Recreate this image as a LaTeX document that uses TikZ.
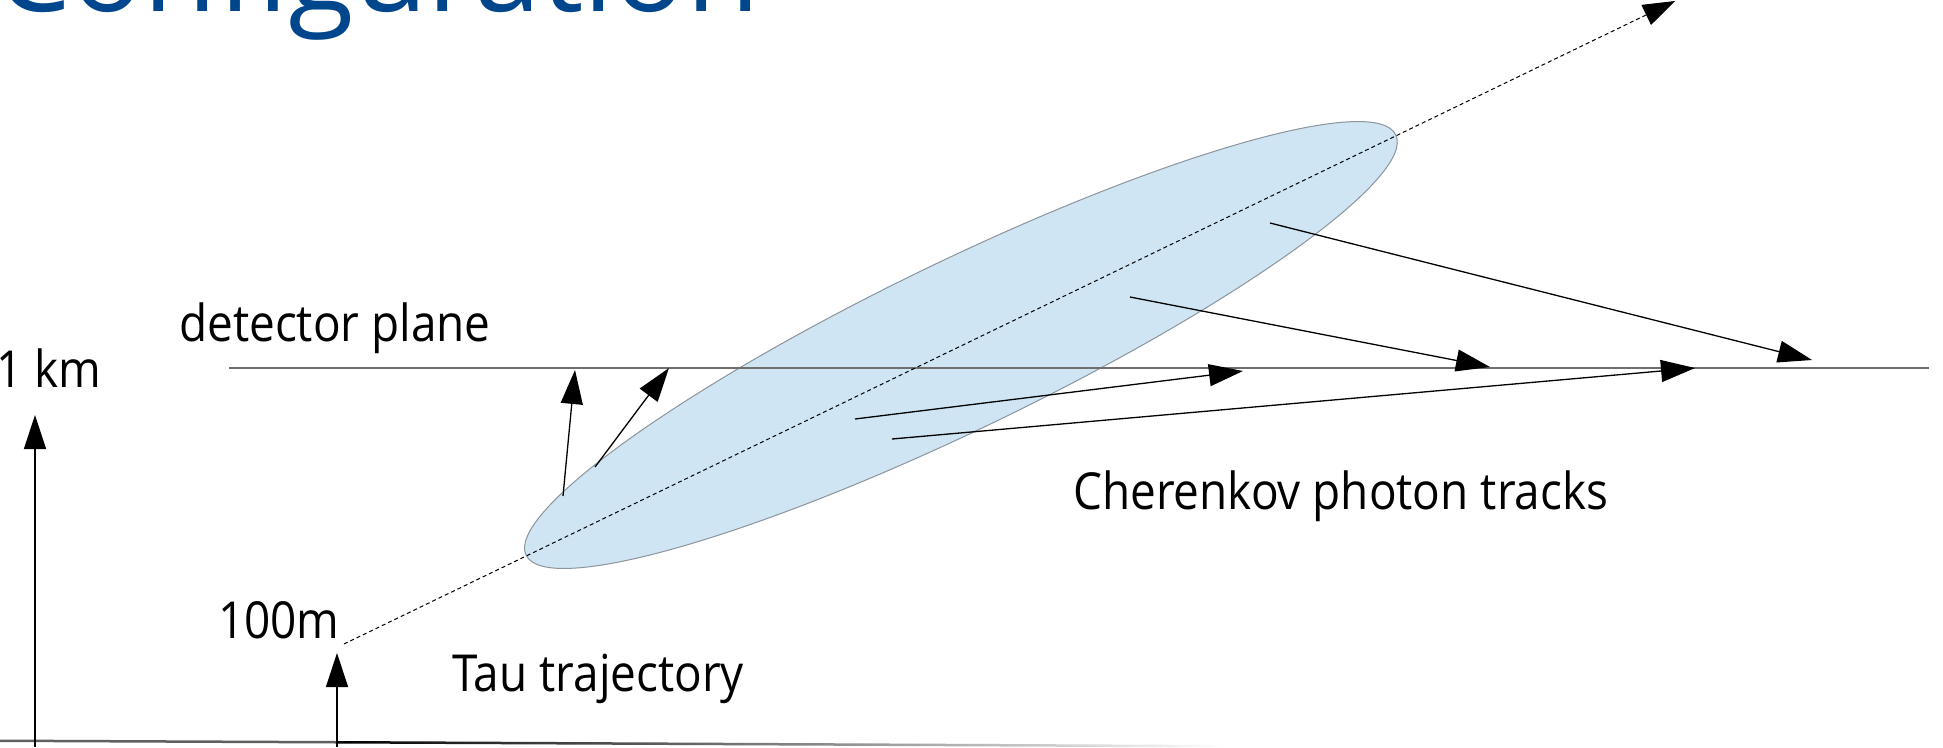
\documentclass[tikz,border=0pt]{standalone}
\usepackage{fontspec}
\setmainfont{Open Sans}
\newfontfamily\labelfont[FakeStretch=0.9]{Open Sans}
\usetikzlibrary{arrows.meta}
\definecolor{titleblue}{RGB}{0,70,140}
\definecolor{cloud}{RGB}{207,229,243}
\definecolor{cloudedge}{RGB}{140,148,156}
\definecolor{planegray}{RGB}{110,110,110}
\begin{document}
\begin{tikzpicture}[x=1pt,y=-1pt,
  lbl/.style={inner sep=0pt, anchor=base west, font=\labelfont\fontsize{51}{60}\selectfont},
  arr/.style={-{Triangle[length=34pt,width=22pt]}, line width=1.3pt, black},
  tau/.style={-{Triangle[length=32pt,width=22pt]}, line width=1pt, dash pattern=on 4pt off 3pt}]
\useasboundingbox (0,0) rectangle (1943,747);
\clip (0,0) rectangle (1943,747);
\fill[white] (0,0) rectangle (1943,747);

% title (cut off at top)
\node[inner sep=0pt, anchor=base east, text=titleblue, font=\fontsize{120}{140}\selectfont] (title) at (760,11) {Configuration};

% coordinates
\coordinate (axisB) at (35,747);  \coordinate (axisT) at (35,415);
\coordinate (hB) at (337,747);    \coordinate (hT) at (337,653);
\coordinate (tauS) at (344,644);  \coordinate (tauE) at (1675,1);
\coordinate (detL) at (229,368);  \coordinate (detR) at (1929,368);
\coordinate (p1s) at (563,496);   \coordinate (p1e) at (575,370);
\coordinate (p2s) at (595,467);   \coordinate (p2e) at (669,368);
\coordinate (p3s) at (855,419);   \coordinate (p3e) at (1243,371);
\coordinate (p4s) at (892,439);   \coordinate (p4e) at (1695,368);
\coordinate (p5s) at (1130,297);  \coordinate (p5e) at (1490,367);
\coordinate (p6s) at (1270,223);  \coordinate (p6e) at (1812,360);
\coordinate (C) at (961,345);

% shower ellipse
\begin{scope}[rotate around={25.8:(C)}]
  \draw[fill=cloud, draw=cloudedge, line width=1pt] (C) ellipse [x radius=483, y radius=84];
\end{scope}

% detector plane
\draw[planegray, line width=2pt] (detL) -- (detR);

% ground
\fill[gray!75!black] (0,739.5) -- (337,741) -- (337,743.5) -- (0,742) -- cycle;
\shade[left color=black, middle color=black, right color=white] (337,741) -- (1225,745) -- (1225,747.5) -- (337,743.5) -- cycle;

% axes
\draw[arr] (axisB) -- (axisT);
\draw[arr] (hB) -- (hT);

% tau trajectory
\draw[tau] (tauS) -- (tauE);

% photon tracks
\draw[arr] (p1s) -- (p1e);
\draw[arr] (p2s) -- (p2e);
\draw[arr] (p3s) -- (p3e);
\draw[arr] (p4s) -- (p4e);
\draw[arr] (p5s) -- (p5e);
\draw[arr] (p6s) -- (p6e);

% labels
\node[lbl] (det) at (179,341) {detector plane};
\node[lbl] (km) at (-4,387) {1 km};
\node[lbl] (hm) at (218,638) {100m};
\node[lbl] (taul) at (452,691) {Tau trajectory};
\node[lbl] (cher) at (1073,509) {Cherenkov photon tracks};
\end{tikzpicture}
\end{document}
